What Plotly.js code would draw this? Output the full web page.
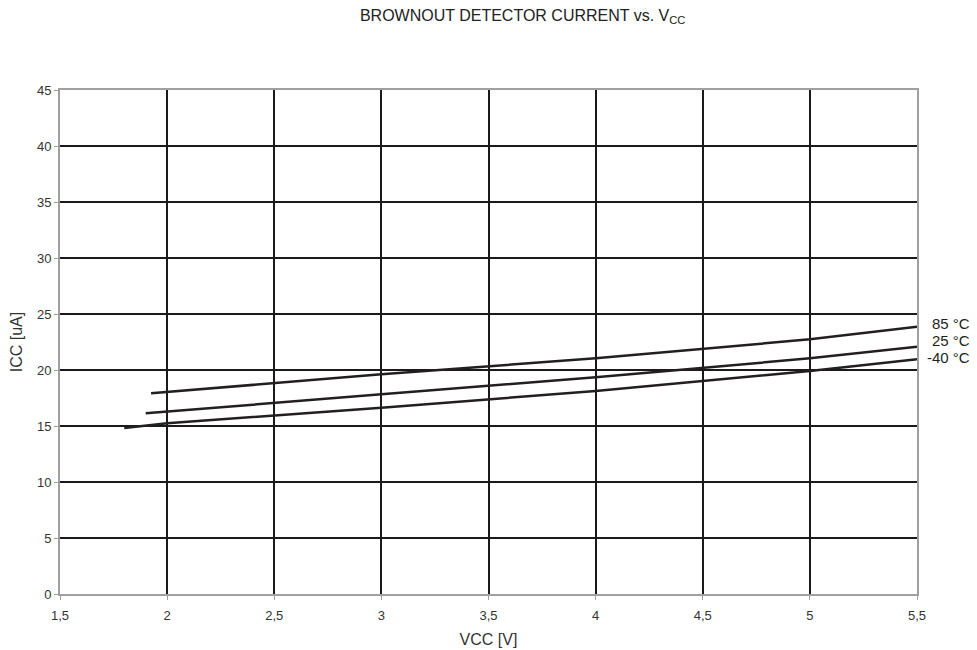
<!DOCTYPE html>
<html>
<head>
<meta charset="utf-8">
<script src="https://cdn.plot.ly/plotly-3.0.1.min.js"></script>
<style>html,body{margin:0;padding:0;background:#fff;}#chart{width:977px;height:650px;}</style>
</head>
<body>
<div id="chart"></div>
<script>
// Data
const vcc85 = [1.925, 2.0, 3.0, 4.0, 5.0, 5.5];
const icc85 = [17.92, 18.04, 19.62, 21.04, 22.74, 23.87];
const vcc25 = [1.9, 2.0, 3.0, 4.0, 5.0, 5.5];
const icc25 = [16.13, 16.28, 17.83, 19.35, 21.04, 22.08];
const vccM40 = [1.8, 2.0, 3.0, 4.0, 5.0, 5.5];
const iccM40 = [14.82, 15.24, 16.63, 18.13, 19.91, 20.96];
const seriesLabels = ["85 °C", "25 °C", "-40 °C"];
const labelY = [24.15, 22.65, 21.15];
const xTicks = [1.5, 2, 2.5, 3, 3.5, 4, 4.5, 5, 5.5];
const yTicks = [0, 5, 10, 15, 20, 25, 30, 35, 40, 45];

const FONT = 'Liberation Sans, Arial, sans-serif';
const lineStyle = {color: '#231f20', width: 2.5};
const traces = [
  {x: vcc85, y: icc85, mode: 'lines', line: lineStyle, name: seriesLabels[0], hoverinfo: 'skip'},
  {x: vcc25, y: icc25, mode: 'lines', line: lineStyle, name: seriesLabels[1], hoverinfo: 'skip'},
  {x: vccM40, y: iccM40, mode: 'lines', line: lineStyle, name: seriesLabels[2], hoverinfo: 'skip'}
];

const annotations = seriesLabels.map((t, i) => ({
  text: t, xref: 'paper', x: 1, yref: 'y', y: labelY[i],
  xanchor: 'right', xshift: 54, yanchor: 'middle', showarrow: false, borderpad: 0,
  font: {family: FONT, size: 15, color: '#231f20'}
}));

const layout = {
  width: 977, height: 650,
  margin: {l: 60, r: 60, t: 90, b: 56},
  paper_bgcolor: '#fff', plot_bgcolor: '#fff',
  showlegend: false,
  separators: ', ',
  font: {family: FONT, color: '#333'},
  title: {
    text: 'BROWNOUT DETECTOR CURRENT vs. V<sub>CC</sub>',
    x: 0.535, xanchor: 'center', y: 0.977, yanchor: 'middle',
    font: {family: FONT, size: 16, color: '#222'}
  },
  xaxis: {
    range: [1.5, 5.5], tickvals: xTicks, ticktext: xTicks.map(v => String(v).replace('.', ',')),
    showgrid: true, gridcolor: '#1a1a1a', gridwidth: 2,
    zeroline: false, showline: true, linecolor: '#a0a0a0', linewidth: 2, mirror: true,
    ticks: 'outside', ticklen: 4, tickcolor: '#a0a0a0', tickwidth: 1,
    ticklabelstandoff: 4,
    tickfont: {size: 13, color: '#333'},
    title: {text: 'VCC [V]', standoff: 12, font: {size: 16, color: '#333'}}
  },
  yaxis: {
    range: [0, 45], tickvals: yTicks,
    showgrid: true, gridcolor: '#1a1a1a', gridwidth: 2,
    zeroline: false, showline: true, linecolor: '#a0a0a0', linewidth: 2, mirror: true,
    ticks: 'outside', ticklen: 4, tickcolor: '#a0a0a0', tickwidth: 1,
    tickfont: {size: 13, color: '#333'},
    title: {text: 'ICC [uA]', standoff: 10, font: {size: 16, color: '#333'}}
  },
  annotations: annotations
};

Plotly.newPlot('chart', traces, layout, {displayModeBar: false, staticPlot: true});
</script>
</body>
</html>
